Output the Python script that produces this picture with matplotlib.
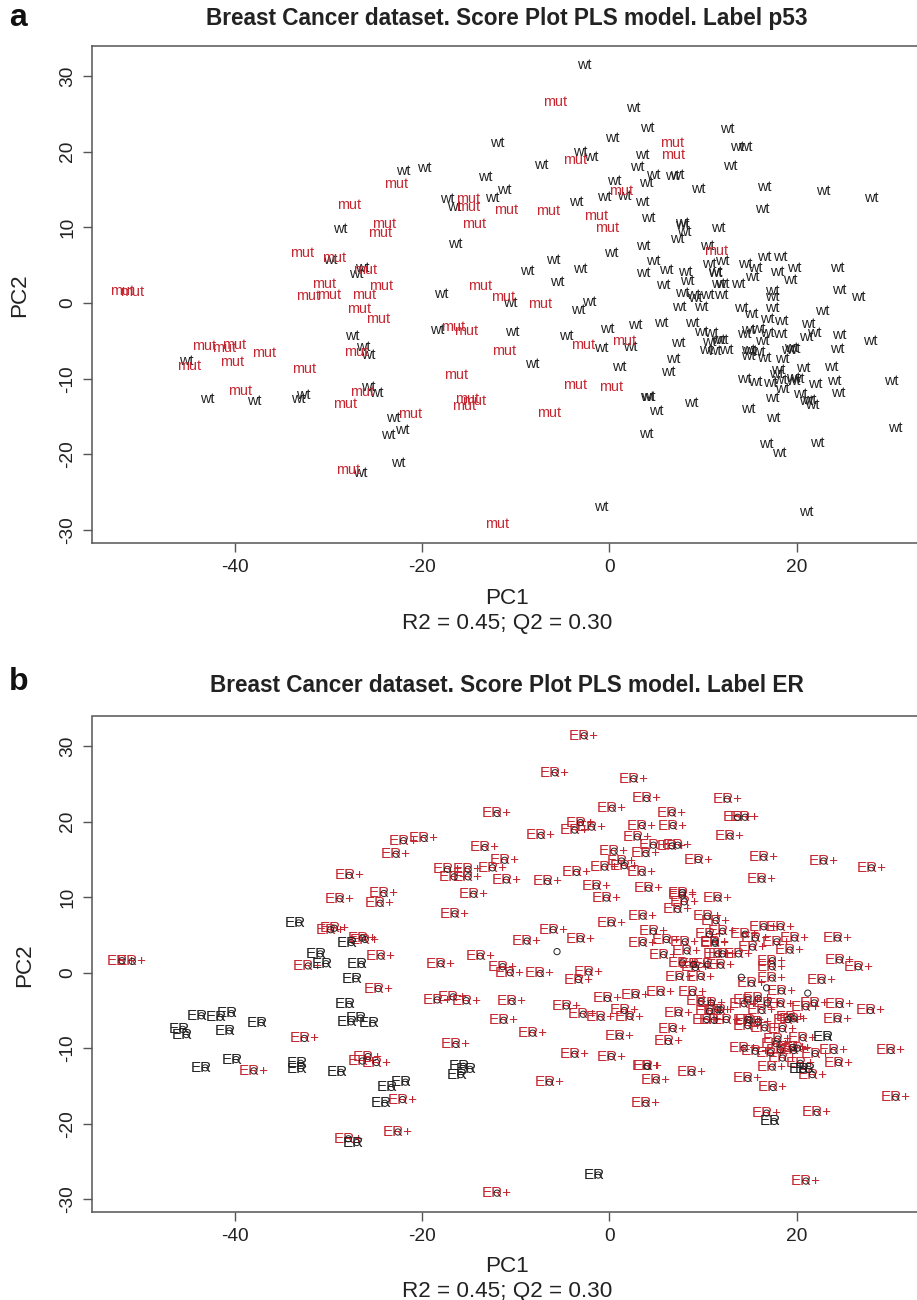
"""
Score plots of a PLS model on the breast cancer dataset, labelled by p53 and ER.
Both panels show the same samples, only the labels differ.
"""
import matplotlib
matplotlib.use("Agg")
import matplotlib.pyplot as plt
import numpy as np

RED = "#c62630"
INK = "#222222"
SPINE = "#555555"
W, H = 917, 1300

plt.rcParams["font.family"] = ["Liberation Sans", "DejaVu Sans"]
plt.rcParams["axes.unicode_minus"] = False

mut_x = [-52.1, -51.0, -43.3, -41.2, -40.1, -40.3, -44.9, -36.9, -39.5, -32.6, -28.3, -32.8,
         -29.4, -30.5, -30.0, -32.2, -24.4, -26.2, -26.7, -24.7, -26.1, -27.1, -26.4, -27.9,
         -27.8, -22.8, -24.1, -24.5, -13.8, -15.1, -15.1, -14.5, -11.0, -6.6, -5.8, -3.7,
         -1.4, -0.3, 1.3, 6.7, 6.8, 11.4, -11.4, -7.4, -16.7, -15.3, -11.3, -2.8,
         1.6, -16.4, -3.7, 0.2, -15.2, -14.5, -15.5, -21.3, -6.4, -12.0]
mut_y = [1.6, 1.5, -5.7, -5.9, -5.5, -7.8, -8.3, -6.6, -11.6, -8.7, -13.3, 6.6,
         5.9, 2.5, 1.1, 0.9, 2.2, 1.1, -0.8, -2.1, 4.4, -6.5, -11.7, -22.0,
         12.9, 15.7, 10.5, 9.2, 2.2, 13.7, 12.7, 10.4, 12.3, 12.1, 26.5, 18.9,
         11.5, 9.9, 14.8, 21.2, 19.5, 6.9, 0.8, -0.1, -3.2, -3.7, -6.3, -5.5,
         -5.0, -9.5, -10.8, -11.1, -12.7, -13.0, -13.6, -14.6, -14.5, -29.2]

wt_x = [-45.2, -43.0, -38.0, -33.3, -32.7, -27.5, -26.3, -25.8, -25.8, -26.6, -28.8, -29.8,
        -27.1, -26.4, -2.7, 2.6, -12.0, 0.3, -3.1, -1.9, -7.3, -22.0, -19.8, -13.3,
        -11.2, -17.3, -16.6, -12.5, -3.5, 0.5, -0.5, 1.6, -16.5, -6.0, -8.8, -3.1,
        -5.6, 0.2, -18.0, -10.6, -2.2, -3.3, -18.4, -10.4, -4.6, -0.2, 2.8, -0.9,
        2.2, -8.2, 1.1, -23.1, -22.1, -23.6, -22.6, -0.9, -24.9,
        4.0, 12.6, 13.7, 14.5, 3.5, 3.0, 4.7, 6.7, 7.3, 3.9, 12.9,
        9.5, 16.5, 22.9, 28.0, 3.5, 16.3, 4.2, 7.8, 7.8, 8.0, 11.6, 7.3,
        3.6, 10.5, 4.7, 3.6, 6.1, 8.1, 8.3, 5.8, 10.7, 12.1, 11.3, 11.3,
        14.5, 15.6, 16.5, 18.3, 17.9, 19.8, 15.3, 19.3, 24.4, 24.6, 26.6, 13.8,
        11.6, 12.1, 11.9, 17.4, 17.4,
        7.8, 9.0, 9.2, 10.5, 7.5, 9.8, 14.1, 17.4, 22.7, 15.2, 16.9, 18.4,
        5.5, 8.9, 21.2, 9.8, 10.9, 14.4, 14.8, 15.9, 16.9, 18.3, 21.0, 21.9,
        24.6, 27.9, 7.4, 10.7, 11.6, 11.9, 16.3, 10.4, 11.2, 12.5, 14.8, 15.0,
        14.8, 15.9, 16.6, 19.4, 19.1, 19.7, 24.4, 6.8, 18.5, 6.3, 20.7, 23.7,
        18.0, 17.8, 14.4, 15.6, 17.2, 18.3, 19.6, 20.1, 19.7, 24.0, 22.0, 30.1,
        18.5, 24.5, 17.4, 20.4, 21.0, 21.4, 21.7, 4.0, 4.1, 5.0, 8.8, 14.8,
        17.5, 3.9, 30.6, 16.8, 18.1, 22.2, 21.0]
wt_y = [-7.7, -12.7, -13.0, -12.7, -12.1, -4.4, -5.8, -6.9, -11.1, -22.4, 9.8, 5.7,
        3.8, 4.6, 31.4, 25.7, 21.1, 21.8, 19.9, 19.3, 18.2, 17.5, 17.8, 16.6,
        14.9, 13.7, 12.7, 13.9, 13.3, 16.1, 14.0, 14.2, 7.8, 5.7, 4.2, 4.5,
        2.8, 6.6, 1.2, 0.0, 0.1, -0.9, -3.6, -3.8, -4.4, -3.4, -2.9, -5.9,
        -5.8, -8.0, -8.4, -15.2, -16.8, -17.4, -21.1, -26.9, -11.9,
        23.1, 23.0, 20.6, 20.6, 19.5, 18.0, 16.9, 16.8, 16.9, 15.8, 18.1,
        15.0, 15.3, 14.8, 13.9, 13.3, 12.4, 11.2, 10.6, 10.3, 9.4, 9.9, 8.4,
        7.5, 7.5, 5.5, 4.0, 4.4, 4.1, 2.9, 2.4, 5.1, 5.5, 4.1, 3.9,
        5.1, 4.6, 6.1, 6.1, 4.1, 4.6, 3.4, 3.0, 4.6, 1.7, 0.8, 2.5,
        2.5, 2.5, 1.0, 1.6, 0.8,
        1.3, 1.1, 0.7, 1.1, -0.5, -0.5, -0.7, -0.7, -1.0, -1.4, -2.1, -2.4,
        -2.6, -2.6, -2.8, -3.8, -4.0, -4.1, -3.6, -3.4, -4.0, -4.1, -4.5, -4.0,
        -4.2, -5.0, -5.3, -5.1, -4.9, -4.9, -5.0, -6.2, -6.3, -6.2, -6.2, -6.3,
        -7.0, -6.5, -7.3, -5.9, -6.2, -6.1, -6.1, -7.4, -7.4, -9.1, -8.6, -8.4,
        -8.8, -9.4, -10.0, -10.4, -10.6, -10.2, -9.9, -10.0, -10.3, -10.3, -10.7, -10.3,
        -11.3, -11.9, -12.5, -12.0, -12.9, -12.8, -13.5, -12.4, -12.4, -14.2, -13.2, -14.0,
        -15.2, -17.3, -16.5, -18.6, -19.8, -18.5, -27.6]

# ER negative samples, every other sample is ER+ or unlabelled
er_neg_x = [-33.2, -30.9, -30.3, -27.6, -26.5, -27.1, -27.8, -26.6, -27.6, -25.3, -43.6, -41.6,
            -40.4, -40.6, -45.6, -45.2, -37.2, -43.2, -39.9, -33.0, -33.0, -28.7, -21.8, -23.3,
            -24.0, -27.0, -15.6, -14.9, -15.9, -1.2, 23.3, 20.7, 21.3, 17.6]
er_neg_y = [6.6, 2.5, 1.2, 4.0, 1.1, -0.8, -4.2, -6.0, -6.5, -6.7, -5.7, -5.9,
            -5.4, -7.7, -7.5, -8.2, -6.6, -12.6, -11.5, -12.0, -12.7, -13.2, -14.5, -15.2,
            -17.3, -22.5, -12.4, -12.8, -13.5, -26.8, -8.5, -12.8, -12.8, -19.7]
er_na_x = [-5.6, 14.1, 16.8, 21.2]
er_na_y = [2.8, -0.6, -2.0, -2.7]

x_ticks = [-40, -20, 0, 20]
y_ticks = [-30, -20, -10, 0, 10, 20, 30]

all_x = np.array(wt_x + mut_x)
all_y = np.array(wt_y + mut_y)


def make_axes(top, bottom):
    ax = fig.add_axes([92 / W, 1 - bottom / H, (921 - 92) / W, (bottom - top) / H])
    ax.set_xlim(-55.3, 33.3)
    ax.set_ylim(-31.7, 33.95)
    ax.set_xticks(x_ticks)
    ax.set_yticks(y_ticks)
    ax.tick_params(length=6.5, width=1.0, color=SPINE, labelsize=13.8, labelcolor=INK, pad=5)
    for lab in ax.get_yticklabels():
        lab.set_rotation(90)
        lab.set_va("center")
    for spine in ax.spines.values():
        spine.set_linewidth(1.1)
        spine.set_color(SPINE)
    return ax


def nearest(x, y, used):
    d = (all_x - x) ** 2 + (all_y - y) ** 2
    d[used] = np.inf
    return int(np.argmin(d))


fig = plt.figure(figsize=(W / 100, H / 100), dpi=100, facecolor="white")

# panel a, labelled by p53
ax_a = make_axes(46, 543)
for x, y in zip(wt_x, wt_y):
    ax_a.text(x, y, "wt", color=INK, fontsize=10.4, ha="center", va="center", clip_on=True)
for x, y in zip(mut_x, mut_y):
    ax_a.text(x, y, "mut", color=RED, fontsize=10.4, ha="center", va="center", clip_on=True)

# panel b, labelled by ER
ax_b = make_axes(716.5, 1212)
taken = np.zeros(len(all_x), dtype=bool)
for x, y in zip(er_neg_x + er_na_x, er_neg_y + er_na_y):
    taken[nearest(x, y, taken)] = True

for x, y in zip(all_x[~taken], all_y[~taken]):
    ax_b.text(x, y, "ER+", color=RED, fontsize=11, ha="center", va="center")
for x, y in zip(er_neg_x, er_neg_y):
    ax_b.annotate("ER", (x, y), xytext=(-2.7, 0), textcoords="offset points",
                  color=INK, fontsize=11, ha="center", va="center")
circle_x = list(all_x[~taken]) + er_neg_x + er_na_x
circle_y = list(all_y[~taken]) + er_neg_y + er_na_y
ax_b.scatter(circle_x, circle_y, s=20, facecolors="none", edgecolors=INK, linewidths=0.7, zorder=3)

# titles and axis captions placed by eye against the figure
def fig_text(px, py, s, **kw):
    fig.text(px / W, 1 - py / H, s, ha="center", va="center", color=kw.pop("color", INK), **kw)


fig_text(507, 18, "Breast Cancer dataset. Score Plot PLS model. Label p53", fontsize=16.3, fontweight="bold")
fig_text(507, 685, "Breast Cancer dataset. Score Plot PLS model. Label ER", fontsize=16.3, fontweight="bold")
fig_text(18, 18, "a", fontsize=23, fontweight="bold", color="#111111")
fig_text(19, 682, "b", fontsize=23, fontweight="bold", color="#111111")

for px_y, cap_y in ((598, 623), (1266, 1291)):
    fig_text(507, px_y, "PC1", fontsize=16.2)
    fig_text(507, cap_y, "R2 = 0.45; Q2 = 0.30", fontsize=16.2)
fig_text(20, 295, "PC2", fontsize=16.2, rotation=90)
fig_text(25, 965, "PC2", fontsize=16.2, rotation=90)

fig.savefig("out.png", dpi=100, facecolor="white")
